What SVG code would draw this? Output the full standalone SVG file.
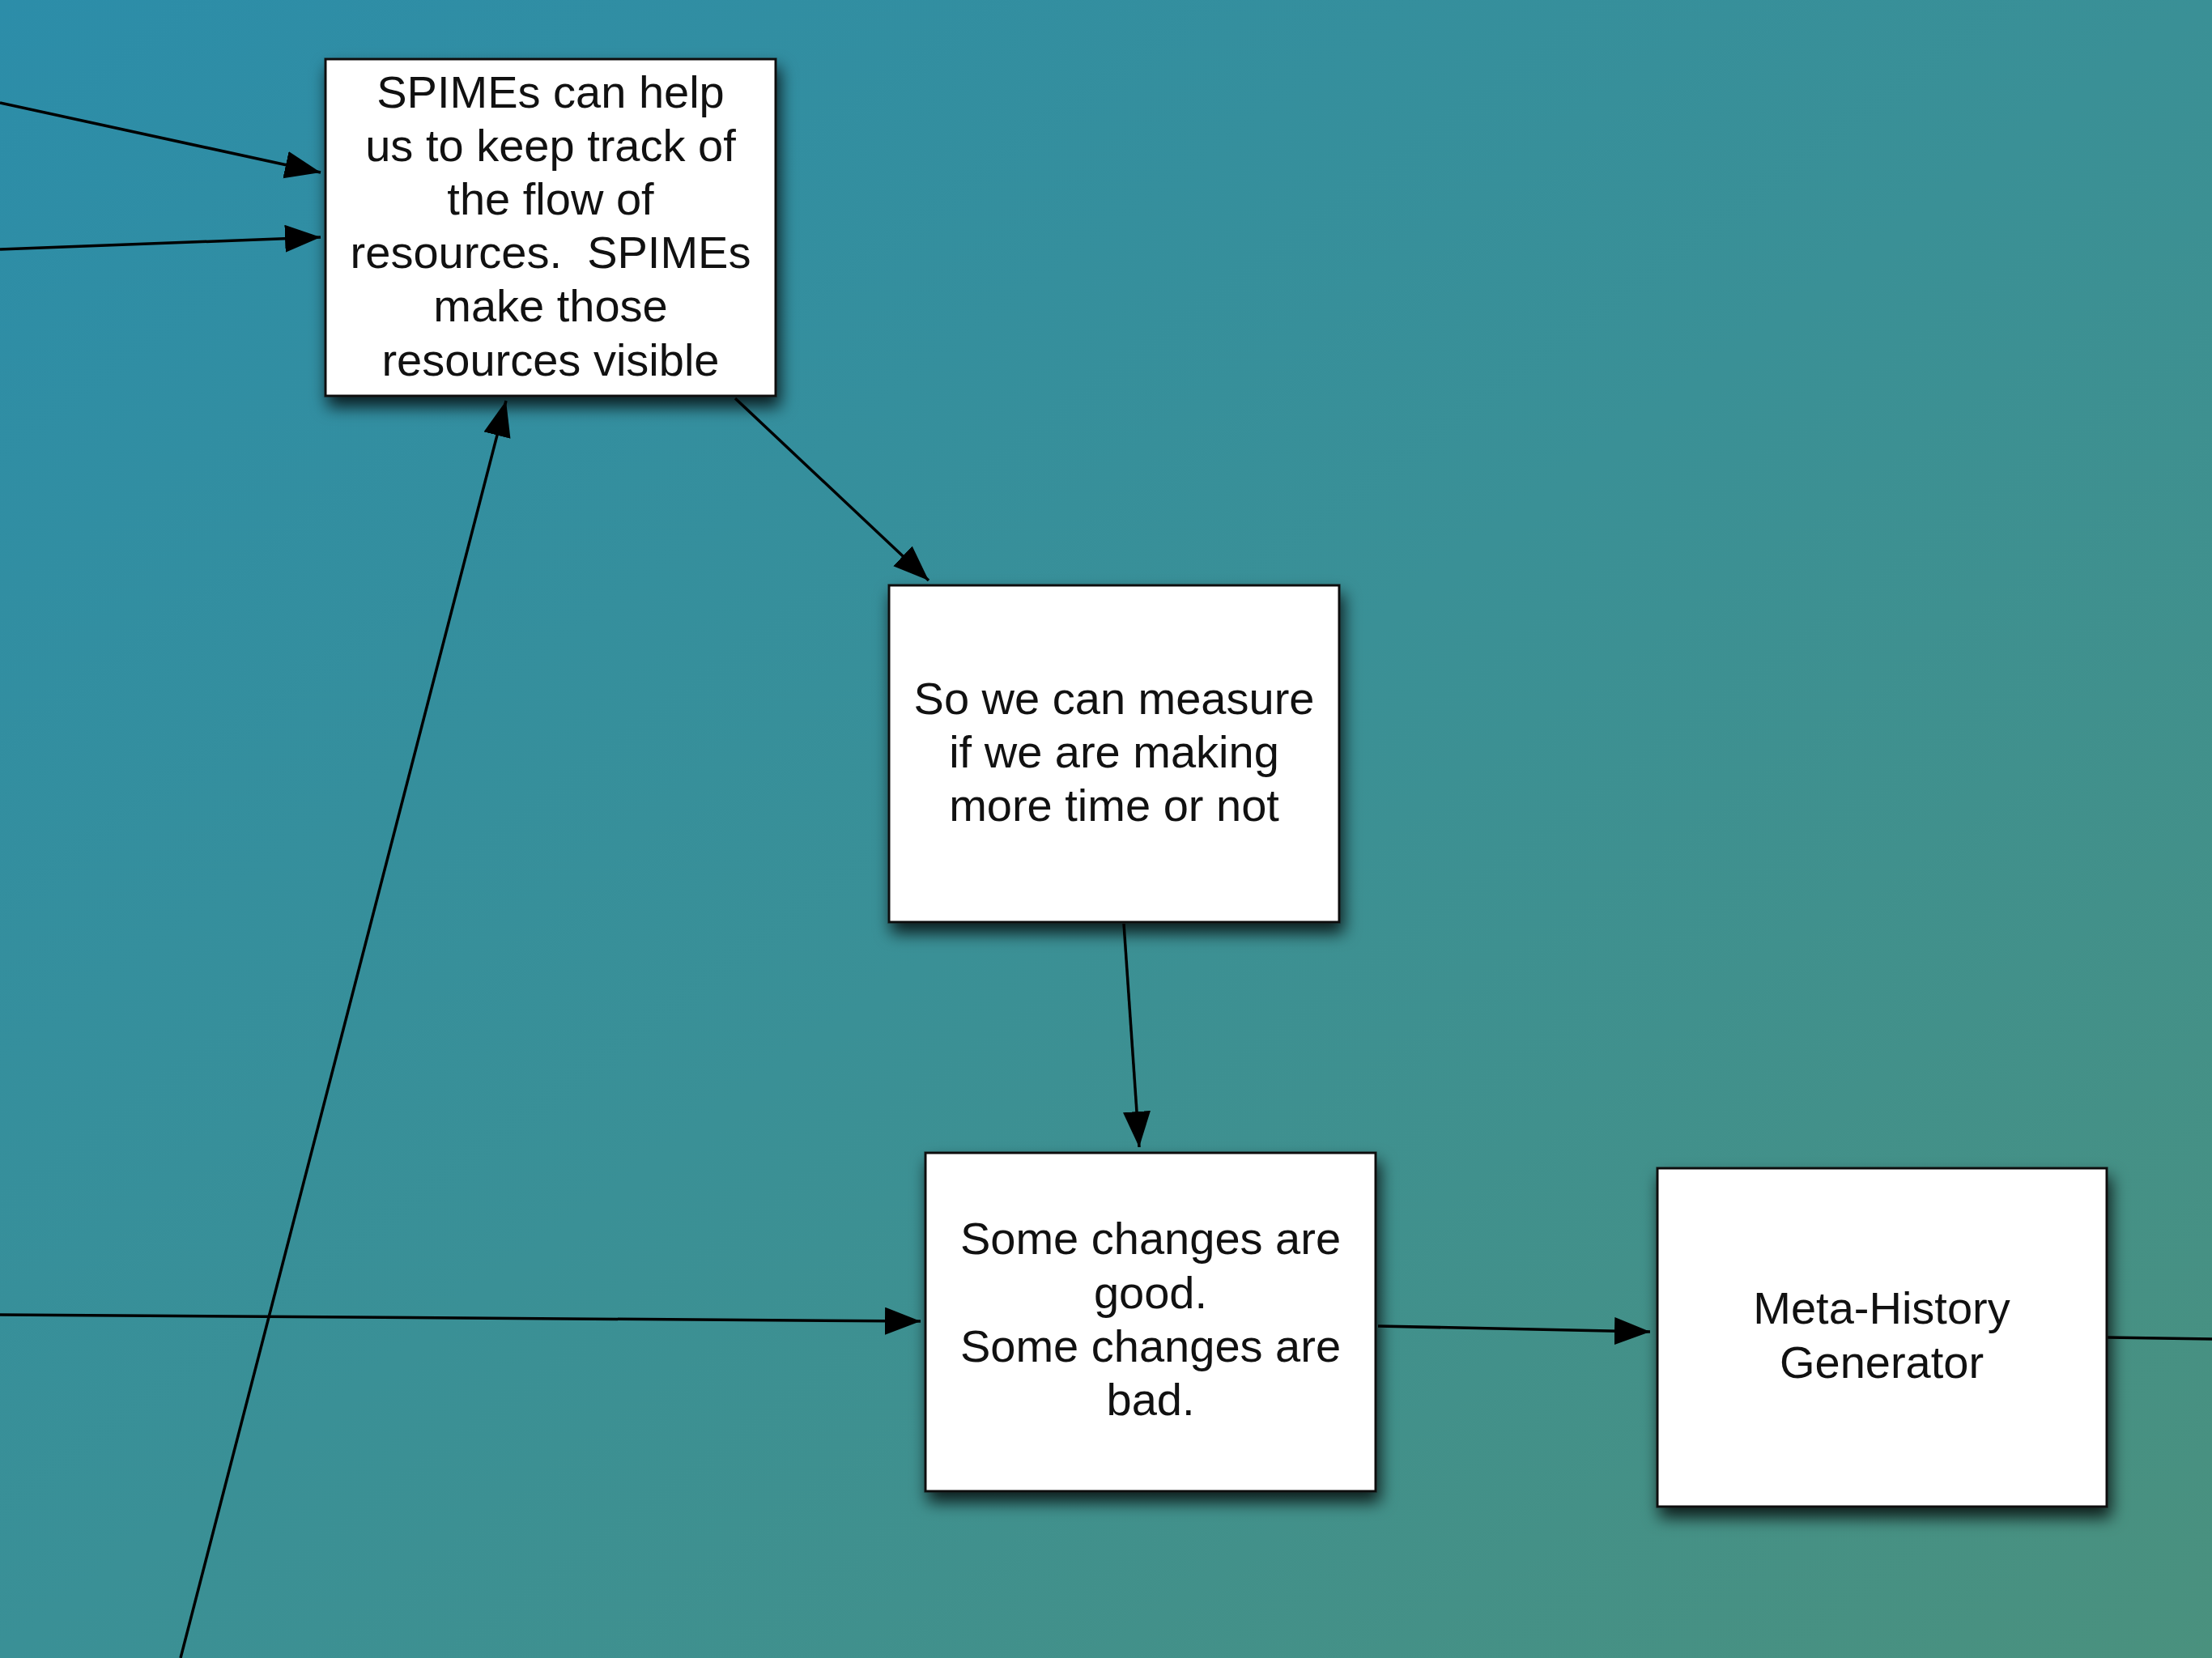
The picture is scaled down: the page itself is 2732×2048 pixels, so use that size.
<svg xmlns="http://www.w3.org/2000/svg" width="2732" height="2048" viewBox="0 0 2732 2048">
<defs>
<linearGradient id="bg" x1="0" y1="0" x2="1" y2="1">
<stop offset="0" stop-color="#2c8da9"/>
<stop offset="0.5" stop-color="#3a9096"/>
<stop offset="1" stop-color="#4a917e"/>
</linearGradient>
<filter id="shadow" x="-10%" y="-10%" width="130%" height="135%">
<feDropShadow dx="4" dy="12" stdDeviation="10" flood-color="#000" flood-opacity="0.8"/>
</filter>
<marker id="arrow" markerUnits="userSpaceOnUse" markerWidth="46" markerHeight="36" refX="44" refY="17" orient="auto">
<path d="M0,0 L44,17 L0,34 z" fill="#000"/>
</marker>
</defs>
<style>
.box{fill:#fff;stroke:#111;stroke-width:3;filter:url(#shadow)}
.lbl{font-family:"Liberation Sans",Arial,sans-serif;font-size:56px;fill:#111;text-anchor:middle}
.edge{fill:none;stroke:#000;stroke-width:3.5}
.arr{marker-end:url(#arrow)}
</style>
<rect width="2732" height="2048" fill="url(#bg)"/>
<g id="connectors">
<line class="edge arr" x1="0" y1="127" x2="396" y2="213"/>
<line class="edge arr" x1="0" y1="308" x2="396" y2="293"/>
<line class="edge arr" x1="223" y1="2048" x2="625" y2="495"/>
<line class="edge arr" x1="908" y1="492" x2="1147" y2="717"/>
<line class="edge arr" x1="1388" y1="1141" x2="1407" y2="1417"/>
<line class="edge arr" x1="0" y1="1624" x2="1137" y2="1632"/>
<line class="edge arr" x1="1702" y1="1638" x2="2038" y2="1645"/>
<line class="edge" x1="2603" y1="1652" x2="2732" y2="1654"/>
</g>
<g id="node-spimes">
<rect class="box" x="402" y="73" width="556" height="416"/>
<text class="lbl" xml:space="preserve"><tspan x="680" y="133">SPIMEs can help</tspan><tspan x="680" y="199">us to keep track of</tspan><tspan x="680" y="265">the flow of</tspan><tspan x="680" y="331">resources.  SPIMEs</tspan><tspan x="680" y="397">make those</tspan><tspan x="680" y="464">resources visible</tspan></text>
</g>
<g id="node-measure">
<rect class="box" x="1098" y="723" width="556" height="416"/>
<text class="lbl"><tspan x="1376" y="882">So we can measure</tspan><tspan x="1376" y="948">if we are making</tspan><tspan x="1376" y="1014">more time or not</tspan></text>
</g>
<g id="node-changes">
<rect class="box" x="1143" y="1424" width="556" height="418"/>
<text class="lbl"><tspan x="1421" y="1549">Some changes are</tspan><tspan x="1421" y="1616">good.</tspan><tspan x="1421" y="1682">Some changes are</tspan><tspan x="1421" y="1748">bad.</tspan></text>
</g>
<g id="node-metahistory">
<rect class="box" x="2047" y="1443" width="555" height="418"/>
<text class="lbl"><tspan x="2324" y="1635">Meta-History</tspan><tspan x="2324" y="1702">Generator</tspan></text>
</g>
</svg>
